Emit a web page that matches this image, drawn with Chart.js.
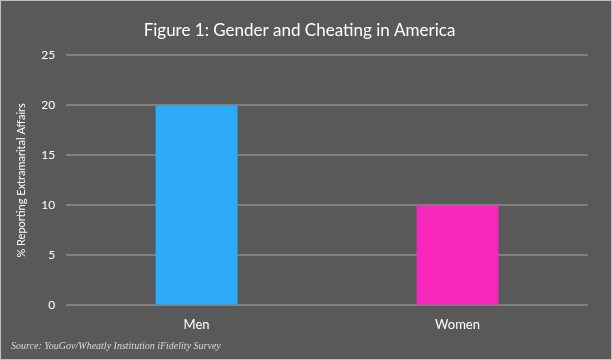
<!DOCTYPE html>
<html>
<head>
<meta charset="utf-8">
<script src="https://cdn.jsdelivr.net/npm/chart.js@4/dist/chart.umd.min.js"></script>
<style>
html,body{margin:0;padding:0;background:#595959;}
#wrap{width:610px;height:358px;border:1px solid #bfbfbf;background:#595959;position:relative;}
canvas{display:block;}
</style>
</head>
<body>
<div id="wrap"><canvas id="c" width="610" height="358"></canvas></div>
<script>
const categories = ["Men", "Women"];
const percentCheating = [20, 10];
const barColors = ["#2DABF9", "#F827BB"];
const chartTitle = "Figure 1: Gender and Cheating in America";
const yAxisTitle = "% Reporting Extramarital Affairs";
const sourceNote = "Source: YouGov/Wheatly Institution iFidelity Survey";

new Chart(document.getElementById('c'), {
  type: 'bar',
  data: {
    labels: categories,
    datasets: [{
      data: percentCheating,
      backgroundColor: barColors,
      borderWidth: 0,
      categoryPercentage: 1,
      barPercentage: 0.314
    }]
  },
  options: {
    responsive: false,
    animation: false,
    layout: { padding: { left: 10, right: 23, top: 0, bottom: 0 } },
    plugins: {
      legend: { display: false },
      tooltip: { enabled: false },
      title: {
        display: true,
        text: chartTitle,
        color: '#ffffff',
        font: { family: 'Lato, "Open Sans", sans-serif', size: 17, weight: 'normal' },
        padding: { top: 19, bottom: 15 }
      },
      subtitle: {
        display: true,
        text: sourceNote,
        position: 'bottom',
        align: 'start',
        color: '#d9d9d9',
        font: { family: '"Liberation Serif", "DejaVu Serif", serif', size: 10, style: 'italic' },
        padding: { top: -5, bottom: 7 }
      }
    },
    scales: {
      x: {
        grid: { display: false, drawTicks: false },
        border: { display: false },
        ticks: {
          color: '#ffffff',
          font: { family: 'Lato, "Open Sans", sans-serif', size: 13 },
          padding: 12
        }
      },
      y: {
        min: 0,
        max: 25,
        ticks: {
          stepSize: 5,
          color: '#ffffff',
          font: { family: 'Lato, "Open Sans", sans-serif', size: 12 },
          padding: 11
        },
        grid: { color: '#808080', lineWidth: 2, drawTicks: false },
        border: { display: false },
        title: {
          display: true,
          text: yAxisTitle,
          color: '#ffffff',
          font: { family: 'Lato, "Open Sans", sans-serif', size: 11 },
          padding: { top: 4, bottom: 2 }
        }
      }
    }
  }
});
</script>
</body>
</html>
